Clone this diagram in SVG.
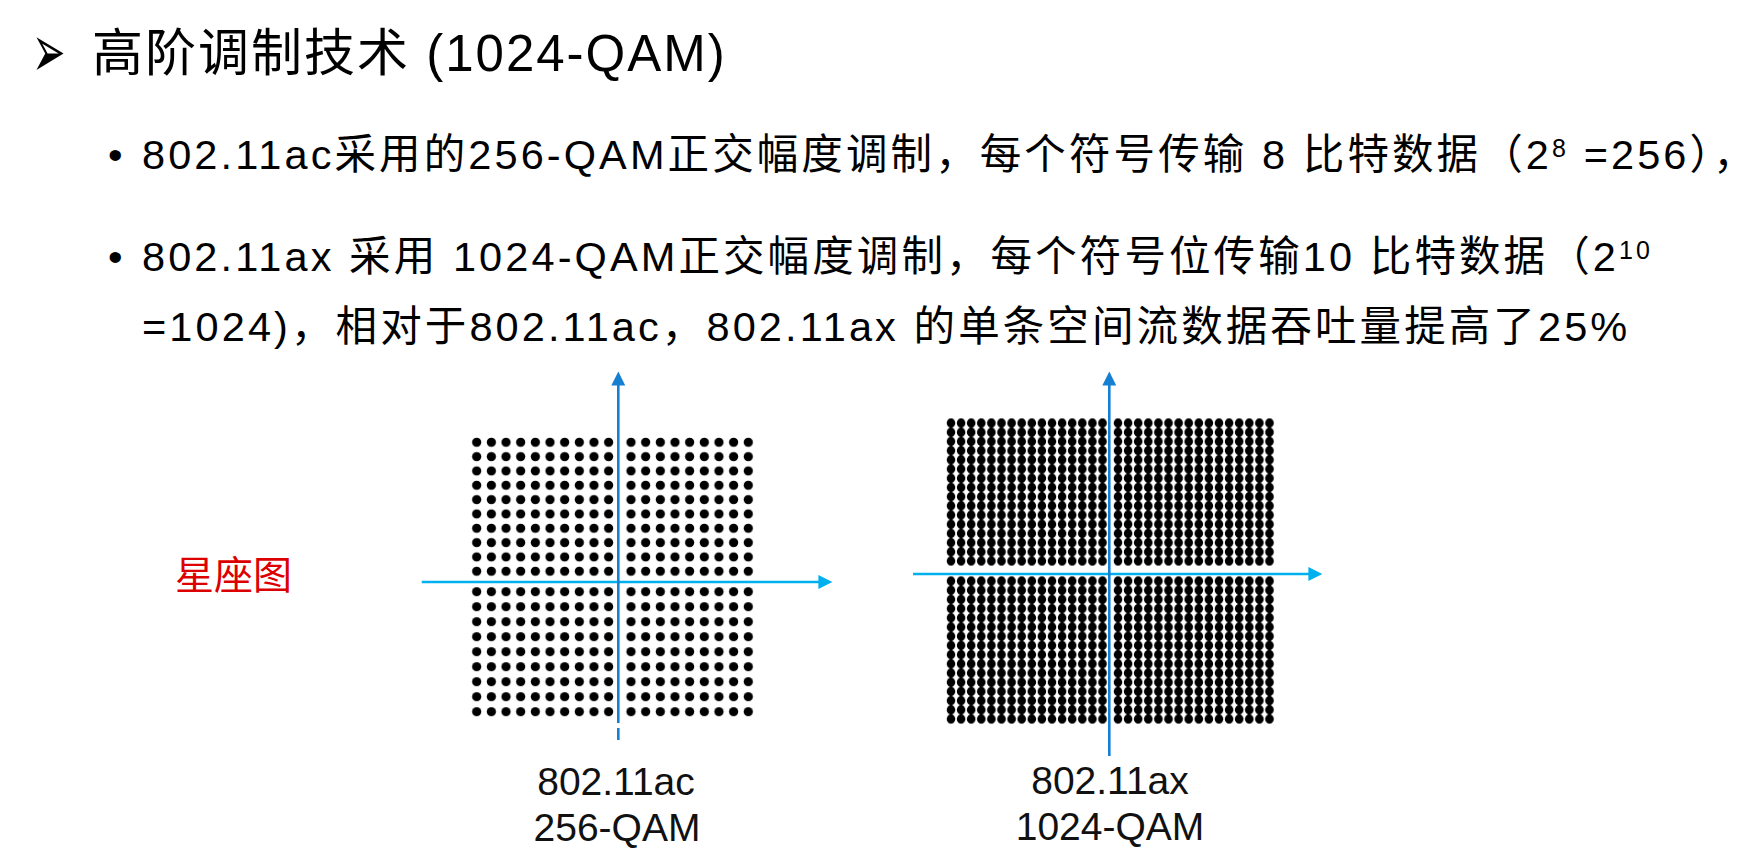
<svg xmlns="http://www.w3.org/2000/svg" width="1756" height="854" viewBox="0 0 1756 854">
<style>
.t{font-family:"Liberation Sans","Noto Sans CJK SC",sans-serif;fill:#000}
.body{font-size:41.5px;letter-spacing:3.1px}
.lbl{font-size:39px;fill:#111;text-anchor:middle;font-family:"Liberation Sans","Noto Sans CJK SC",sans-serif}
.vax{stroke:#1580d2;stroke-width:2.6;fill:none}
.hax{stroke:#00b0ef;stroke-width:2.6;fill:none}
</style>
<defs>
<pattern id="pA" patternUnits="userSpaceOnUse" x="0" y="0" width="14.66" height="14.33"><circle cx="7.33" cy="7.165" r="4.6"/></pattern>
<pattern id="pB" patternUnits="userSpaceOnUse" x="0" y="0" width="14.66" height="15"><circle cx="7.33" cy="7.5" r="4.6"/></pattern>
<pattern id="pC" patternUnits="userSpaceOnUse" x="0" y="0" width="10.1" height="9.2"><ellipse cx="5.05" cy="4.6" rx="4.3" ry="4.7"/></pattern>
<marker id="mv" viewBox="0 0 10 10" refX="3.3" refY="5" markerWidth="15" markerHeight="14" markerUnits="userSpaceOnUse" orient="auto"><path d="M0,0 L10,5 L0,10 z" fill="#1580d2"/></marker>
<marker id="mh" viewBox="0 0 10 10" refX="3.3" refY="5" markerWidth="15" markerHeight="14" markerUnits="userSpaceOnUse" orient="auto"><path d="M0,0 L10,5 L0,10 z" fill="#00b0ef"/></marker>
</defs>
<rect width="1756" height="854" fill="#fff"/>

<g id="title">
<text transform="translate(32,76.5) scale(1,1.87)" x="0" y="0" font-size="40" font-family="DejaVu Sans">➢</text>
<text class="t" x="92" y="71" font-size="51" letter-spacing="2">高阶调制技术 (1024-QAM)</text>
</g>

<g id="bullets">
<text class="t body" x="108" y="169">•</text>
<text class="t body" x="142" y="169">802.11ac采用的256-QAM正交幅度调制，每个符号传输 8 比特数据（2<tspan font-size="25" dy="-12.5">8</tspan><tspan dy="12.5"> =256），</tspan></text>
<text class="t body" x="108" y="271">•</text>
<text class="t body" x="142" y="271">802.11ax 采用 1024-QAM正交幅度调制，每个符号位传输10 比特数据（2<tspan font-size="25" dy="-12.5">10</tspan></text>
<text class="t body" x="142" y="341">=1024)，相对于802.11ac，802.11ax 的单条空间流数据吞吐量提高了25%</text>
</g>

<g id="label-constellation">
<text x="175" y="589" font-size="39" fill="#dd0000" font-family="Noto Sans CJK SC,sans-serif">星座图</text>
</g>

<g id="chart-256qam">
<rect transform="translate(469.37,435.135)" width="146.6" height="143.3" fill="url(#pA)"/>
<rect transform="translate(623.67,435.135)" width="131.94" height="143.3" fill="url(#pA)"/>
<rect transform="translate(469.37,584.2)" width="146.6" height="135" fill="url(#pB)"/>
<rect transform="translate(623.67,584.2)" width="131.94" height="135" fill="url(#pB)"/>
<text class="lbl" x="616" y="795">802.11ac</text>
<text class="lbl" x="617" y="841">256-QAM</text>
</g>

<g id="chart-1024qam">
<rect transform="translate(945.95,418.4)" width="161.6" height="147.2" fill="url(#pC)"/>
<rect transform="translate(1112.95,418.4)" width="161.6" height="147.2" fill="url(#pC)"/>
<rect transform="translate(945.95,576.4)" width="161.6" height="147.2" fill="url(#pC)"/>
<rect transform="translate(1112.95,576.4)" width="161.6" height="147.2" fill="url(#pC)"/>
<text class="lbl" x="1110" y="794" font-size="38">802.11ax</text>
<text class="lbl" x="1110" y="840" font-size="38">1024-QAM</text>
</g>

<g id="connectors">
<line class="hax" x1="421.7" y1="582" x2="823" y2="582" marker-end="url(#mh)"/>
<line class="vax" x1="618.3" y1="723" x2="618.3" y2="381" marker-end="url(#mv)"/>
<line class="vax" x1="618.3" y1="728" x2="618.3" y2="740"/>
<line class="hax" x1="913" y1="574" x2="1313" y2="574" marker-end="url(#mh)"/>
<line class="vax" x1="1109.3" y1="756" x2="1109.3" y2="381" marker-end="url(#mv)"/>
</g>
</svg>
